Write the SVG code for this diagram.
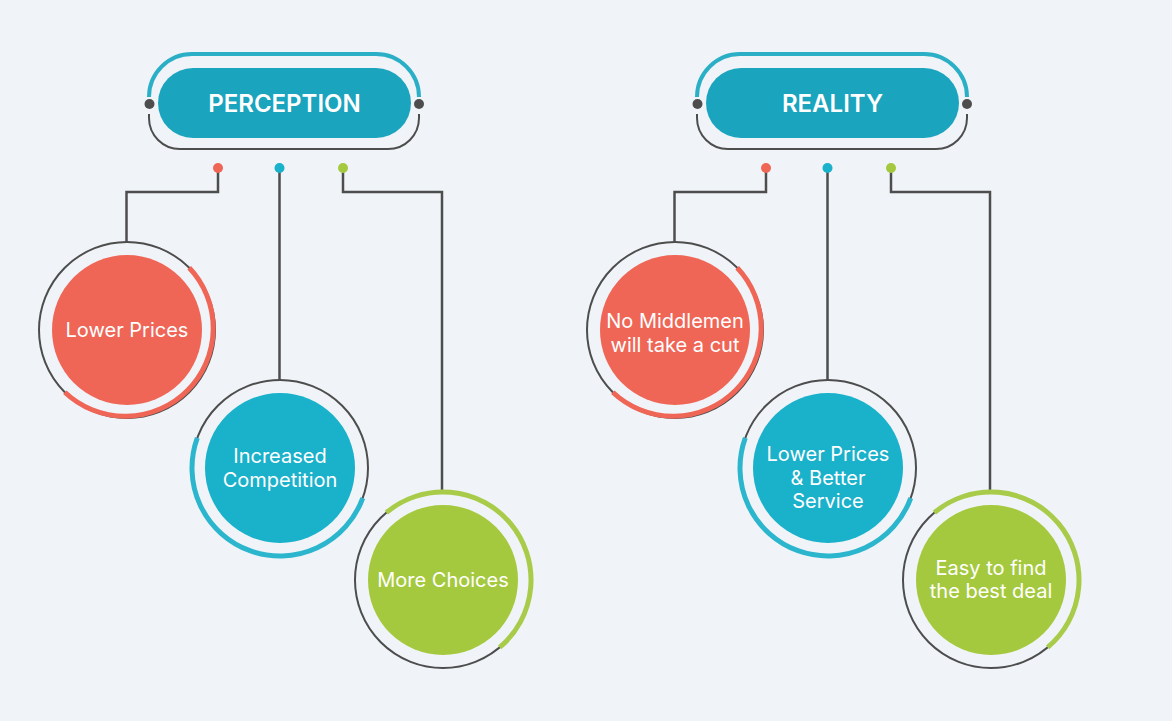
<svg xmlns="http://www.w3.org/2000/svg" width="1172" height="721" viewBox="0 0 1172 721">
<style>
.bg{fill:#F0F4F8}
.pill{fill:#1AA4BE}
.track-top{fill:none;stroke:#2BAFC6;stroke-width:4}
.track-bot{fill:none;stroke:#4D4D4D;stroke-width:2}
.pdot{fill:#4D4D4D}
.ring{fill:none;stroke:#4D4D4D;stroke-width:2}
.arc{fill:none;stroke-width:5}
.red{fill:#EF6657}.redS{stroke:#EF6657}
.blue{fill:#1AB1CB}.blueS{stroke:#2CB6CE}
.green{fill:#A5C93E}.greenS{stroke:#A9CB4A}
.conn{fill:none;stroke:#4D4D4D;stroke-width:2.5}
.title{font-family:Inter,"Noto Sans",sans-serif;font-size:24px;font-weight:600;fill:#FFFFFF;text-anchor:middle}
.lbl{font-family:Inter,"Noto Sans",sans-serif;font-size:20px;fill:#FFFFFF;text-anchor:middle}
</style>
<rect class="bg" x="0" y="0" width="1172" height="721"/>

<g id="connectors">
<path class="conn" d="M218,168 V192 H126.5 V242"/>
<path class="conn" d="M279.5,168 V380"/>
<path class="conn" d="M343,168 V192 H442 V492"/>
<path class="conn" d="M766,168 V192 H674.5 V242"/>
<path class="conn" d="M827.5,168 V380"/>
<path class="conn" d="M891,168 V192 H990 V493"/>
<circle class="red" cx="218" cy="168" r="5"/>
<circle class="blue" cx="279.5" cy="168" r="5"/>
<circle class="green" cx="343" cy="168" r="5"/>
<circle class="red" cx="766" cy="168" r="5"/>
<circle class="blue" cx="827.5" cy="168" r="5"/>
<circle class="green" cx="891" cy="168" r="5"/>
</g>

<g id="perception">
<path class="track-top" d="M149,97 A43,43 0 0 1 192,54 H376 A43,43 0 0 1 419,97"/>
<path class="track-bot" d="M149,114 V118 A31,31 0 0 0 180,149 H388 A31,31 0 0 0 419,118 V114"/>
<circle class="pdot" cx="149.5" cy="104" r="5"/>
<circle class="pdot" cx="419" cy="104" r="5"/>
<rect class="pill" x="158" y="68" width="253" height="70" rx="35"/>
<text class="title" x="284.5" y="112">PERCEPTION</text>
</g>

<g id="reality">
<path class="track-top" d="M697,97 A43,43 0 0 1 740,54 H924 A43,43 0 0 1 967,97"/>
<path class="track-bot" d="M697,114 V118 A31,31 0 0 0 728,149 H936 A31,31 0 0 0 967,118 V114"/>
<circle class="pdot" cx="697.5" cy="104" r="5"/>
<circle class="pdot" cx="967" cy="104" r="5"/>
<rect class="pill" x="706" y="68" width="253" height="70" rx="35"/>
<text class="title" x="832.5" y="112">REALITY</text>
</g>

<g id="lower-prices">
<circle class="ring" cx="127" cy="330" r="88"/>
<path class="arc redS" d="M189.2,267.8 A88,88 0 0 1 64.8,392.2"/>
<circle class="red" cx="127" cy="330" r="75"/>
<text class="lbl" x="127" y="337">Lower Prices</text>
</g>

<g id="increased-competition">
<circle class="ring" cx="280" cy="468" r="88"/>
<path class="arc blueS" d="M362.7,498.1 A88,88 0 0 1 197.3,437.9"/>
<circle class="blue" cx="280" cy="468" r="75"/>
<text class="lbl" x="280" y="463">Increased</text>
<text class="lbl" x="280" y="487">Competition</text>
</g>

<g id="more-choices">
<circle class="ring" cx="443" cy="580" r="88"/>
<path class="arc greenS" d="M386.4,512.6 A88,88 0 0 1 499.6,647.4"/>
<circle class="green" cx="443" cy="580" r="75"/>
<text class="lbl" x="443" y="587">More Choices</text>
</g>

<g id="no-middlemen">
<circle class="ring" cx="675" cy="330" r="88"/>
<path class="arc redS" d="M737.2,267.8 A88,88 0 0 1 612.8,392.2"/>
<circle class="red" cx="675" cy="330" r="75"/>
<text class="lbl" x="675" y="328">No Middlemen</text>
<text class="lbl" x="675" y="352">will take a cut</text>
</g>

<g id="lower-prices-better-service">
<circle class="ring" cx="828" cy="468" r="88"/>
<path class="arc blueS" d="M910.7,498.1 A88,88 0 0 1 745.3,437.9"/>
<circle class="blue" cx="828" cy="468" r="75"/>
<text class="lbl" x="828" y="461">Lower Prices</text>
<text class="lbl" x="828" y="484.5">&amp; Better</text>
<text class="lbl" x="828" y="508">Service</text>
</g>

<g id="easy-to-find">
<circle class="ring" cx="991" cy="580" r="88"/>
<path class="arc greenS" d="M934.4,512.6 A88,88 0 0 1 1047.6,647.4"/>
<circle class="green" cx="991" cy="580" r="75"/>
<text class="lbl" x="991" y="575">Easy to find</text>
<text class="lbl" x="991" y="598">the best deal</text>
</g>
</svg>
